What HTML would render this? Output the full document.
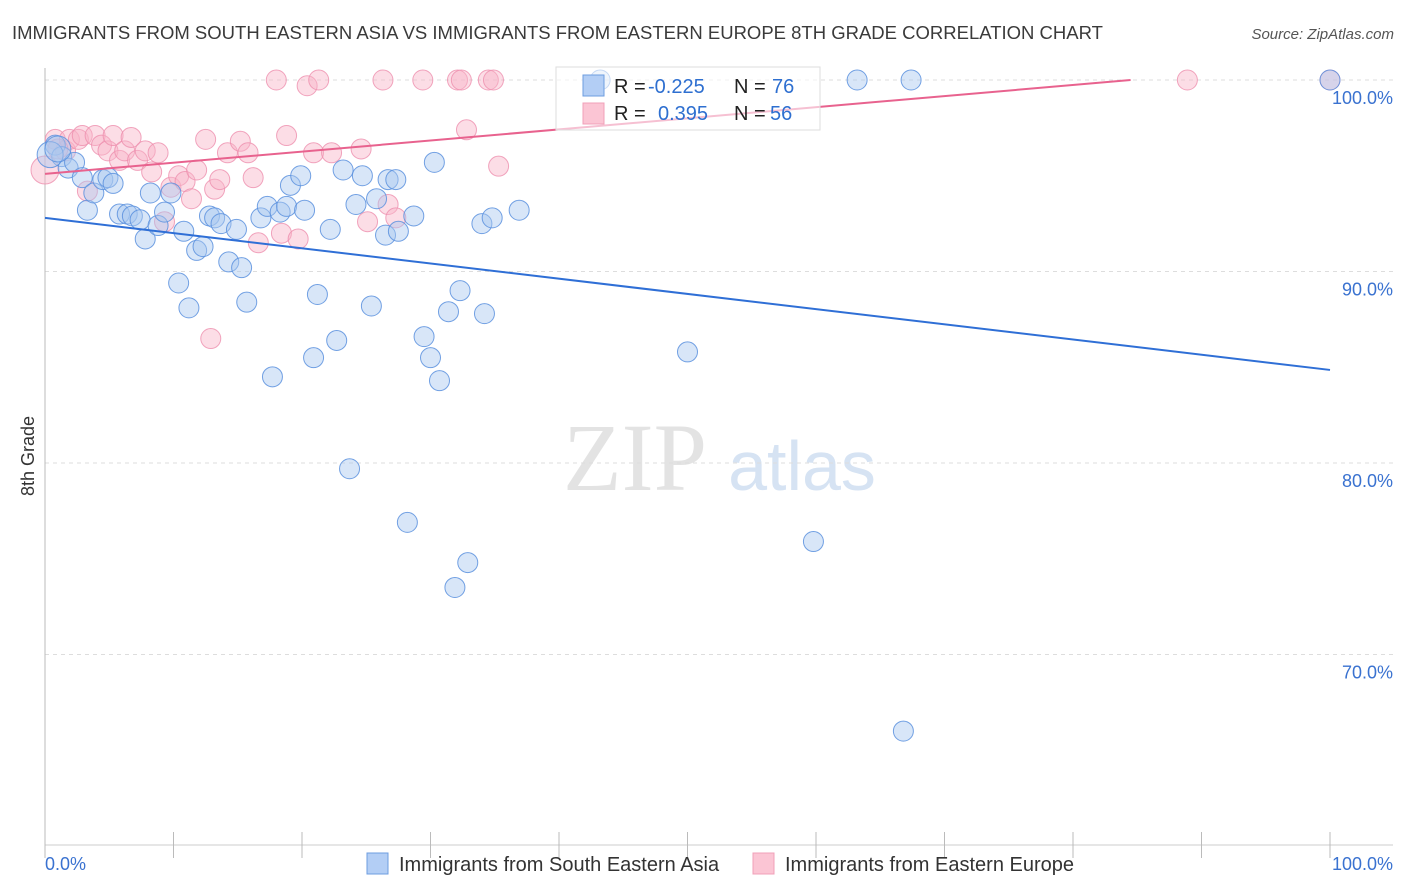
<!DOCTYPE html>
<html><head><meta charset="utf-8"><style>
body{margin:0;background:#fff;font-family:"Liberation Sans",sans-serif;}
svg{display:block}
</style></head><body>
<svg id="chart" width="1406" height="892">
<text x="12" y="39" font-size="18.5" fill="#3a3a3a">IMMIGRANTS FROM SOUTH EASTERN ASIA VS IMMIGRANTS FROM EASTERN EUROPE 8TH GRADE CORRELATION CHART</text>
<text x="1394" y="39" font-size="15" font-style="italic" fill="#555" text-anchor="end">Source: ZipAtlas.com</text>
<text x="34" y="456" font-size="18" fill="#333" text-anchor="middle" transform="rotate(-90 34 456)">8th Grade</text>
<g>
<text x="635" y="490" font-family="Liberation Serif,serif" font-size="96" fill="#e3e3e3" text-anchor="middle">ZIP</text>
<text x="802" y="490" font-size="70" fill="#d6e3f3" text-anchor="middle">atlas</text>
</g>
<g id="grid"></g><g id="axes"></g><g id="pts"></g><g id="lines"></g>
<g>
<rect x="556" y="67" width="264" height="63" fill="#fff" fill-opacity="0.6" stroke="#ddd"/>
<rect x="583" y="75" width="21" height="21" fill="#b3cef5" stroke="#6e9de0"/>
<rect x="583" y="103" width="21" height="21" fill="#fbc5d4" stroke="#f0a0b8"/>
<text x="614" y="93" font-size="20" fill="#222">R = </text><text x="648" y="93" font-size="20" fill="#2e6fd0">-0.225</text>
<text x="734" y="93" font-size="20" fill="#222">N = </text><text x="772" y="93" font-size="20" fill="#2e6fd0">76</text>
<text x="614" y="120" font-size="20" fill="#222">R = </text><text x="658" y="120" font-size="20" fill="#2e6fd0">0.395</text>
<text x="734" y="120" font-size="20" fill="#222">N = </text><text x="770" y="120" font-size="20" fill="#2e6fd0">56</text>
</g>
<g>
<rect x="367" y="853" width="21" height="21" fill="#b3cef5" stroke="#6e9de0"/>
<text x="399" y="871" font-size="20" fill="#333">Immigrants from South Eastern Asia</text>
<rect x="753" y="853" width="21" height="21" fill="#fbc5d4" stroke="#f0a0b8"/>
<text x="785" y="871" font-size="20" fill="#333">Immigrants from Eastern Europe</text>
</g>
</svg>
<script>
const yTicks=[100,90,80,70];
const yTickLabels=["100.0%","90.0%","80.0%","70.0%"];
const blueX=[0.8,1.3,1.8,2.3,2.9,3.3,3.8,4.5,4.9,5.3,5.8,6.4,6.8,7.4,7.8,8.2,8.8,9.3,9.8,10.8,11.8,12.3,10.4,11.2,12.8,13.2,13.7,14.3,14.9,15.3,15.7,16.8,17.3,17.7,18.3,18.8,19.1,19.9,20.2,20.9,21.2,22.2,22.7,23.2,23.7,24.2,24.7,25.4,25.8,26.5,26.7,27.3,27.5,28.2,28.7,29.5,30.0,30.3,30.7,31.4,31.9,32.3,32.9,34.0,34.2,34.8,36.9,43.2,50.0,59.8,63.2,66.8,67.4,100,0.4,1.0];
const blueY=[96.6,96.0,95.4,95.7,94.9,93.2,94.1,94.8,94.9,94.6,93.0,93.0,92.9,92.7,91.7,94.1,92.4,93.1,94.1,92.1,91.1,91.3,89.4,88.1,92.9,92.8,92.5,90.5,92.2,90.2,88.4,92.8,93.4,84.5,93.1,93.4,94.5,95.0,93.2,85.5,88.8,92.2,86.4,95.3,79.7,93.5,95.0,88.2,93.8,91.9,94.8,94.8,92.1,76.9,92.9,86.6,85.5,95.7,84.3,87.9,73.5,89.0,74.8,92.5,87.8,92.8,93.2,100,85.8,75.9,100,66.0,100,100,96.1,96.4];
const pinkX=[0,0.8,1.6,1.9,2.6,2.9,3.3,3.9,4.4,4.9,5.3,5.8,6.2,6.7,7.2,7.8,8.3,8.8,9.3,9.8,10.4,10.9,11.4,11.8,12.5,12.9,13.2,13.6,14.2,15.2,15.8,16.2,16.6,18.0,18.4,18.8,19.7,20.4,20.9,21.3,22.3,24.6,25.1,26.3,26.7,27.3,29.4,32.1,32.4,32.8,34.5,34.9,35.3,88.9,100,1.0];
const pinkY=[95.3,96.9,96.3,96.9,96.9,97.1,94.2,97.1,96.6,96.3,97.1,95.8,96.3,97.0,95.8,96.3,95.2,96.2,92.6,94.4,95.0,94.7,93.8,95.3,96.9,86.5,94.3,94.8,96.2,96.8,96.2,94.9,91.5,100,92.0,97.1,91.7,99.7,96.2,100,96.2,96.4,92.6,100,93.5,92.8,100,100,100,97.4,100,100,95.5,100,100,96.4];
const blueFit=[92.8,84.86];
const pinkFit=[95.1,100.9];
const NS="http://www.w3.org/2000/svg";
const X=v=>45+v*12.85, Y=v=>80+(100-v)*19.15;
function mk(tag,attrs,parent){const e=document.createElementNS(NS,tag);for(const k in attrs)e.setAttribute(k,attrs[k]);document.getElementById(parent).appendChild(e);return e;}
yTicks.forEach((t,i)=>{
 const g=mk('line',{x1:45,x2:1393,y1:Y(t),y2:Y(t),stroke:'#ddd','stroke-dasharray':'4,4'},'grid');
 
 
 const l=mk('text',{x:1393,y:Y(t)+24,'font-size':18,fill:'#3a72d0','text-anchor':'end'},'axes');
 l.textContent=yTickLabels[i];
 
 
});
const ya=mk('line',{x1:45,x2:45,y1:68,y2:845,stroke:'#bbb'},'axes');


const xa=mk('line',{x1:45,x2:1393,y1:845,y2:845,stroke:'#ccc'},'axes');


for(let i=0;i<=10;i++){const t=mk('line',{x1:X(i*10),x2:X(i*10),y1:832,y2:858,stroke:'#bbb'},'axes');
 
 }
const x0=mk('text',{x:45,y:870,'font-size':18,fill:'#3a72d0'},'axes');x0.textContent='0.0%';


const x1=mk('text',{x:1393,y:870,'font-size':18,fill:'#3a72d0','text-anchor':'end'},'axes');x1.textContent='100.0%';


pinkX.forEach((v,i)=>{const c=mk('circle',{cx:X(v),cy:Y(pinkY[i]),r:i==0?14:10,fill:'#f8b4c8','fill-opacity':0.45,stroke:'#ee8fae','stroke-opacity':0.8},'pts');
 
 });
blueX.forEach((v,i)=>{const c=mk('circle',{cx:X(v),cy:Y(blueY[i]),r:(i>=74)?13:10,fill:'#a9c8f0','fill-opacity':0.45,stroke:'#5a90de','stroke-opacity':0.85},'pts');
 
 });
const bl=mk('line',{x1:X(0),y1:Y(blueFit[0]),x2:X(100),y2:Y(blueFit[1]),stroke:'#2f6fd6','stroke-width':2},'lines');


const xe=(100-pinkFit[0])/(pinkFit[1]-pinkFit[0])*100;
const pl=mk('line',{x1:X(0),y1:Y(pinkFit[0]),x2:X(xe),y2:Y(100),stroke:'#e8628e','stroke-width':2},'lines');


</script>
</body></html>
